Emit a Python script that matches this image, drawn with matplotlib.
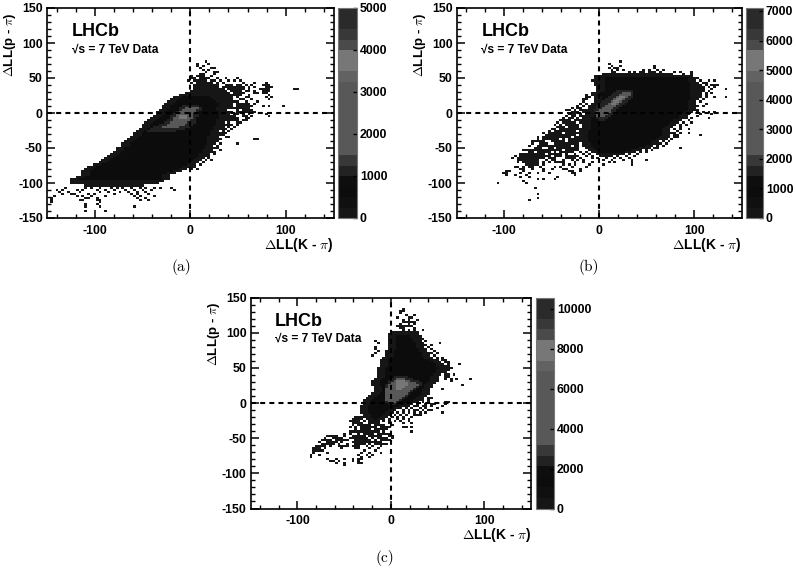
import numpy as np
import matplotlib
matplotlib.use("Agg")
import matplotlib.pyplot as plt
from matplotlib.colors import ListedColormap, BoundaryNorm

plt.rcParams['font.family'] = ['Liberation Sans', 'DejaVu Sans']
plt.rcParams['font.weight'] = 'bold'
plt.rcParams['mathtext.fontset'] = 'cm'

W, H = 796, 571

# colour bar greys, bottom to top (20 bands)
greys = ['#161616', '#101010', '#0c0c0c', '#0e0e0e', '#222222', '#383838', '#585858', '#585858', '#585858', '#585858',
         '#585858', '#585858', '#585858', '#626262', '#777777', '#777777', '#4a4a4a', '#383838', '#2a2a2a', '#2a2a2a']

# ---- panel a: row (y) and left/right edges of the filled region
a_rows = list(range(-105, 36, 3))
a_left = [-110, -125, -125, -125, -118, -112, -112, -112, -110, -108, -102, -96, -93, -90, -87, -84, -81, -78, -78, -72,
          -72, -69, -66, -63, -60, -60, -57, -54, -51, -51, -48, -45, -42, -39, -36, -36, -33, -30, -30, -27, -24, -21,
          -18, -12, -6, 0, 3]
a_right = [-50, -35, -28, -24, -22, -22, -18, -12, -6, -3, 3, 6, 9, 12, 15, 15, 18, 18, 21, 21,
           24, 24, 24, 24, 27, 27, 27, 30, 30, 33, 33, 33, 36, 36, 36, 36, 33, 33, 36, 36, 33, 30,
           27, 24, 21, 18, 15]
a_mid_rows = [9, 6, 3, 0, -3, -6, -9, -12, -15, -18, -21, -24, -27]
a_mid_left = [-9, -12, -12, -15, -18, -21, -21, -24, -27, -33, -39, -42, -45]
a_mid_right = [6, 9, 9, 6, 6, 6, 3, 3, 3, 0, -3, -9, -18]
a_core_rows = [6, 3, 0, -3, -6, -9, -12, -15, -18, -21]
a_core_left = [-6, -9, -12, -15, -15, -18, -18, -21, -24, -30]
a_core_right = [6, 3, 3, 0, 0, 0, -3, -6, -9, -15]
a_top_rows = [-6, -9]
a_top_left = [-12, -12]
a_top_right = [-6, -6]
a_wing_y = [45, 42, 39, 36, 36, 36, 33, 33, 33, 33, 30, 30, 30, 27, 27, 27, 24, 24, 21, 18, 15, 12, 12, 9, 9, 6, 6, 3, 0, 0, -6, -9, -12]
a_wing_l = [6, 6, 3, 3, 36, 48, 3, 39, 51, 78, 3, 42, 75, 15, 45, 75, 24, 48, 27, 30, 33, 36, 48, 39, 48, 39, 51, 54, 48, 57, 36, 42, 36]
a_wing_r = [15, 18, 24, 27, 42, 54, 33, 45, 54, 81, 36, 48, 81, 39, 51, 78, 42, 51, 42, 42, 45, 42, 60, 42, 63, 48, 60, 60, 54, 60, 42, 48, 45]
a_fringe_y = [72, 69, 66, 63, 60, 57, 54, 51, 48, 45, 42, 39, 36, 33, 30, 27, 24, 21, 18, 15, 12, 9, 6, 3, 0, -3, -6,
              -9, -12, -15, -18, -21, -24, -27, -30, -33, -36, -39, -42, -45, -48, -51, -54, -57, -60, -63, -66, -69,
              -72, -75, -78, -81, -108, -111, -114, -117, -120, -123, -126, -129, -132, -135, -141]
a_fringe_x = [[15], [6, 18], [6, 12], [9, 21, 24], [12, 18], [15, 24, 27], [9, 12, 24], [0, 6, 9, 12, 21],
              [0, 3, 9, 12, 15, 18, 27, 36, 48], [-3, 3, 9, 15, 21, 24, 30, 39, 45, 51], [0, 18, 21, 27, 33, 54, 66, 78],
              [24, 27, 36, 39, 42, 48, 51, 57, 63, 75, 78, 81], [24, 27, 33, 36, 45, 54, 60, 66, 78, 81, 84],
              [21, 24, 30, 33, 39, 42, 48, 51, 60, 72, 75, 78, 81, 108, 111], [21, 24, 27, 33, 36, 45, 51, 57, 60, 66, 75, 78],
              [27, 33, 36, 39, 54, 66, 69, 75, 78], [27, 30, 36, 45, 48, 60, 81], [30, 36, 42, 48, 57, 60, 78, 84],
              [33, 36, 42, 51, 54, 63, 81], [36, 39, 42, 48, 57, 69], [36, 39, 48, 54, 60, 66],
              [33, 51, 54, 57, 60, 63, 75, 81, 96], [36, 39, 42, 54, 57, 60], [36, 48, 60, 63], [39, 42, 48, 51, 57, 63, 66],
              [36, 39, 45, 48, 54, 60, 78], [36, 42, 45, 54, 57, 63, 81], [39, 42, 48, 57, 60], [36, 42, 48, 54, 57],
              [39, 48, 51], [36, 39, 42, 48], [33, 39, 45], [33, 36, 42], [33, 39], [30, 33, 36], [30, 33], [27, 36, 39],
              [27, 30, 66, 69], [27], [30, 48], [27], [24, 27], [21, 30], [21, 24], [18, 24], [18], [12, 18], [9, 15, 21],
              [6, 12], [3, 9], [0, 3], [0, 6],
              [-132, -111, -105, -96, -84, -78, -72, -63, -54, -48, -39, -33, -21],
              [-141, -135, -120, -114, -99, -90, -81, -69, -60, -51, -42, -18],
              [-138, -129, -117, -96, -87, -75, -66, -57, -48], [-135, -126, -123, -108, -102, -81, -63, -57, -45],
              [-144, -120, -114, -105, -90, -60, -54, -39], [-147, -111, -108, -99, -57, -48],
              [-147, -117, -114, -99, -96, -54, -45], [-147, -96], [-111, -99], [-111, -96, -60], [-111, -90]]

# ---- panel b
b_rows = list(range(-63, 57, 3))
b_left = [0, -3, -9, -12, -15, -18, -18, -21, -21, -21, -21, -21, -21, -18, -18, -18, -18, -18, -18, -15, -15, -15, -15,
          -12, -12, -9, -6, -6, -6, -9, -9, -3, -3, -3, -3, -3, -3, -3, 0, 3]
b_right = [12, 24, 33, 39, 48, 54, 60, 60, 66, 69, 72, 72, 72, 72, 75, 78, 81, 84, 90, 90, 93, 96, 99, 99, 99, 99, 99, 102,
           102, 102, 102, 102, 102, 102, 102, 102, 99, 99, 96, 75]
b_mid_rows = [30, 27, 24, 21, 18, 15, 12, 9, 6, 3, 0, -3, -6, -9, -12]
b_mid_left = [18, 15, 12, 9, 6, 3, 0, -3, -3, -6, -6, -6, -3, -3, 0]
b_mid_right = [33, 33, 33, 33, 30, 27, 24, 21, 18, 15, 15, 12, 9, 6, 3]
b_core_rows = [27, 24, 21, 18, 15, 12, 9, 6, 3, 0, -3, -6]
b_core_left = [24, 21, 18, 15, 12, 9, 6, 3, 0, -3, -3, -3]
b_core_right = [30, 30, 27, 24, 21, 18, 15, 12, 9, 9, 6, 3]
b_top_rows = [21, 18, 15, 12]
b_top_left = [21, 18, 15, 12]
b_top_right = [24, 21, 18, 15]
b_wing_y = [-12, -12, -15, -18, -21, -21, -24, -24, -27, -27, -30, -30, -33, -33, -36, -36, -36, -39, -39, -42, -42, -42,
            -45, -45, -45, -48, -51, -51, -54, -54, -54, -57, -57, -60, -60, -60, -63, -63, -63, -66, -66, -66, -69, -72, -72, -75]
b_wing_l = [-39, -27, -39, -36, -45, -33, -42, -30, -45, -36, -51, -36, -57, -39, -60, -42, -27, -57, -33, -69, -51, -33,
            -63, -48, -30, -60, -69, -45, -75, -60, -36, -66, -42, -84, -72, -54, -81, -48, -36, -84, -54, -33, -81, -78, -48, -75]
b_wing_r = [-33, -21, -30, -24, -39, -24, -33, -21, -39, -30, -42, -24, -42, -30, -45, -33, -21, -48, -24, -60, -39, -24,
            -57, -36, -24, -33, -63, -27, -66, -42, -27, -54, -30, -78, -60, -45, -60, -42, -24, -63, -48, -27, -66, -66, -42, -66]
b_fringe_y = [72, 69, 66, 63, 60, 57, 54, 51, 48, 45, 42, 39, 36, 33, 30, 27, 24, 21, 18, 15, 12, 9, 6, 3, 0, -3, -6, -9,
              -12, -15, -18, -21, -24, -27, -30, -33, -36, -39, -42, -45, -48, -51, -54, -57, -60, -63, -66, -69, -72,
              -75, -78, -81, -84, -87, -90, -93, -96, -99, -102, -108, -117, -123, -126]
b_fringe_x = [[21], [9], [12, 21, 57], [9, 15, 18, 57], [12, 18, 24, 45, 51, 60, 66],
              [12, 15, 30, 36, 42, 45, 51, 54, 57, 63, 78, 84, 96], [3, 18, 21, 24, 30, 54, 87, 96], [-6, -3], [-6, 102],
              [-9, -6, 105, 114, 120], [-6, 102, 108, 111], [-6, 105, 111, 117, 120, 123], [-3, 105, 108, 114, 120],
              [105, 108, 117, 132], [105, 108, 114], [105, 111, 117], [-15, 105, 111], [-15, -12, 105, 111, 120, 132],
              [-18, -15, 108], [-18, 105], [-21, -15, 111], [-24, -18, 102, 108], [-30, -24, -21],
              [-36, -33, -27, -21, -18, 102], [-30, -27, -24, -18, -15, 102, 108, 114, 120], [-33, -30, -27, -21, 105, 117],
              [-36, -30, -27, -21, -18, 102], [-39, -33, -30, -24, -18, 96, 114], [-42, -39, -33, -27, -24, -21, 93],
              [-45, -39, -36, -30, -27, -21, 87, 96], [-48, -42, -36, -30, -27, -24, 84, 90], [-45, -39, -33, -27, -24, 84],
              [-51, -48, -42, -36, -30, -24, 78, 84, 93], [-54, -48, -45, -39, -33, -27, 81],
              [-60, -54, -51, -45, -42, -36, -30, -24, 75, 78, 84, 93],
              [-57, -54, -51, -48, -45, -42, -39, -33, -27, 78, 81, 105],
              [-66, -57, -54, -51, -48, -45, -42, -36, -27, -24, 72, 78, 81],
              [-66, -60, -54, -51, -45, -39, -33, -27, -24, 69, 75], [-72, -69, -63, -60, -51, -48, -42, -33, -24, 66, 72],
              [-72, -63, -60, -57, -48, -42, -39, -33, -24, 63, 69], [-75, -66, -63, -57, -54, -45, -39, -33, -27, -24, 60, 66],
              [-69, -63, -54, -51, -45, -39, -36, -30, -24, 51, 57, 60, 84],
              [-81, -78, -69, -63, -60, -57, -51, -45, -42, -36, -30, -24, 42, 48, 54],
              [-75, -72, -63, -57, -54, -48, -42, -36, -30, -21, -15, 36, 42, 48],
              [-84, -75, -69, -63, -60, -54, -48, -45, -42, -36, -27, -18, -12, 30, 39],
              [-90, -84, -78, -72, -63, -57, -54, -48, -42, -36, -30, -24, -15, -9, 18, 27, 36],
              [-93, -87, -81, -78, -75, -69, -66, -60, -54, -48, -36, -30, -21, -9, -3, 6, 15, 21, 30],
              [-87, -84, -78, -75, -72, -69, -66, -57, -51, -48, -39, -30, -24, -18, 3, 12, 24, 33, 48],
              [-87, -81, -75, -72, -69, -66, -60, -54, -45, -39, -27, -18, -9, 9, 15, 33],
              [-78, -72, -66, -60, -39, -33, -27, -12, 3, 33], [-90, -87, -81, -75, -72, -63, -48, -42, -30, -15],
              [-84, -81, -72, -60, -51, -39, -36, -21], [-99, -96, -81, -60, -33, -30, -21],
              [-102, -99, -84, -75, -66, -54, -30, -27], [-99, -90, -78, -27], [-84, -75, -45], [-66, -60, -48], [-81],
              [-108, -78], [-69], [-66], [-66], [-75]]

# ---- panel c
c_rows = list(range(-30, 102, 3))
c_left = [-12, -21, -27, -30, -30, -33, -33, -33, -33, -30, -30, -30, -27, -24, -21, -18, -18, -18, -21, -21, -21, -18,
          -15, -15, -15, -15, -15, -12, -12, -12, -12, -9, -6, -6, -6, -3, -3, -3, -3, -3, -3, -3, -3, 0]
c_right = [-18, -15, -9, -6, -3, 0, 3, 9, 15, 21, 27, 30, 33, 36, 39, 39, 39, 42, 42, 45, 48, 48, 48, 51, 54, 54, 57,
           54, 54, 51, 48, 42, 39, 39, 36, 36, 33, 33, 33, 30, 30, 27, 27, 24]
c_mid_rows = [36, 33, 30, 27, 24, 21, 18, 15, 12, 9, 6, 3, 0, -3]
c_mid_left = [3, 0, -3, -3, -6, -6, -6, -6, -6, -6, -6, -6, -6, -3]
c_mid_right = [15, 21, 27, 30, 30, 27, 24, 21, 18, 15, 12, 9, 6, 3]
c_core_rows = [33, 30, 27, 24, 21, 18, 15, 12, 9, 6, 3, 0]
c_core_left = [6, 3, 0, -3, -3, -6, -6, -6, -6, -6, -6, -3]
c_core_right = [12, 18, 24, 27, 24, 21, 18, 15, 12, 9, 6, 3]
c_top_rows = [30, 27, 24, 21, 18]
c_top_left = [6, 6, 6, 6, 6]
c_top_right = [12, 15, 15, 12, 9]
c_wing_y = [114, 108, 51, 48, -21, -24, -27, -27, -30, -30, -33, -33, -36, -36, -39, -39, -42, -42, -45, -45, -48, -48, -48,
            -51, -51, -51, -54, -54, -54, -54, -57, -57, -57, -60, -60, -60, -63, -63, -63, -66, -69]
c_wing_l = [12, 12, 54, 57, -39, -42, -45, -24, -42, -24, -36, -15, -30, -12, -33, -18, -42, -24, -30, -12, -69, -39, -24,
            -60, -42, -15, -75, -57, -39, -12, -66, -42, -24, -72, -39, -15, -81, -57, -42, -84, -84]
c_wing_r = [24, 21, 60, 60, -33, -33, -36, -18, -33, -15, -27, -9, -21, -3, -24, -9, -33, -15, -21, -3, -63, -33, -12,
            -54, -27, -6, -66, -51, -24, -3, -60, -33, -15, -66, -30, -9, -75, -51, -36, -78, -78]
c_fringe_y = [132, 129, 126, 123, 120, 117, 114, 111, 108, 105, 102, 99, 93, 90, 87, 84, 81, 78, 75, 72, 69, 66, 63, 60,
              57, 54, 51, 48, 45, 42, 39, 36, 33, 30, 24, 18, 6, 3, 0, -3, -6, -9, -12, -15, -18, -21, -24, -27, -30, -33,
              -36, -39, -42, -45, -48, -51, -54, -57, -60, -63, -66, -69, -72, -75, -78, -81, -84, -87, -90]
c_fringe_x = [[12], [9, 12], [9], [15, 24], [6, 18, 21], [12, 18, 27], [12, 15, 18, 21], [9, 18, 24], [6, 9, 15, 21],
              [9, 12, 24], [12, 18, 24, 33], [3, 27], [-3, 30], [33], [-18, 36], [-15, 51], [36, 42], [-18, 39], [-18, 42],
              [-15, 45], [-18, 42, 48], [-21, 45], [48, 54], [54, 57], [57, 60], [60, 72], [60], [60, 63], [57, 60], [57],
              [57, 60, 66], [57, 60], [57, 63, 69, 84], [63], [75], [54], [39, 42], [33, 39], [33, 39, 57, 60],
              [27, 36, 42, 45, 57], [18, 24, 27, 33, 36, 42, 54], [9, 15, 21, 30, 36, 48], [12, 18, 24, 27, 33, 39, 42],
              [6, 12, 18, 24, 30, 36, 54], [3, 9, 15, 24, 27, 30], [0, 6, 12, 21], [-3, 6, 12, 18],
              [-30, -21, -9, -3, 3, 9, 18], [-42, -36, -24, -18, -3, 12, 21], [-42, -30, -24, -18, -9, 0],
              [-45, -39, -33, -27, -18, -9, -3, 12, 15, 21], [-39, -30, -24, -18, -12, -6],
              [-45, -36, -30, -27, -21, -18, -9, 21], [-51, -45, -36, -30, -24, -15, -12, -6],
              [-66, -60, -51, -42, -36, -30, -24, -18, -12, -3, 0], [-72, -63, -54, -45, -36, -30, -21, -15, -6, 0],
              [-72, -66, -60, -54, -48, -39, -36, -33, -24, -18, -12, -6], [-78, -69, -60, -54, -42, -39, -36, -30, -27, -21, -12],
              [-75, -69, -63, -57, -48, -39, -36, -30, -24, -18, -9, -6], [-78, -72, -66, -54, -48, -36, -27, -21, -12],
              [-81, -78, -72, -54, -39, -36, -24, -15], [-81, -75, -30, -18], [-84, -69, -33, -24, -12],
              [-87, -78, -36, -27, -21], [-87, -33, -24], [-69, -60, -51, -42, -36, -33], [-66, -63, -57, -42, -36],
              [-60, -51, -36, -33], [-51]]

# colour scale tops and labels
a_zmax, b_zmax, c_zmax = 5000, 7100, 10550
a_ticks = [0, 1000, 2000, 3000, 4000, 5000]
b_ticks = [0, 1000, 2000, 3000, 4000, 5000, 6000, 7000]
c_ticks = [0, 2000, 4000, 6000, 8000, 10000]

edges = np.arange(-150, 151, 3)
cmap = ListedColormap(greys)


def paint(z, rows, lefts, rights, val):
    for y, l, r in zip(rows, lefts, rights):
        j = (y + 150) // 3
        z[j, (l + 150) // 3:(r + 150) // 3 + 1] = val


def panel(box, cbox, zmax, ticks, layers, fringe_y, fringe_x, tag, tagpos):
    z = np.full((100, 100), np.nan)
    for y, xs in zip(fringe_y, fringe_x):
        for x in xs:
            z[(y + 150) // 3, min((x + 150) // 3, 99)] = 0.02 * zmax
    for rows, l, r, frac in layers:
        paint(z, rows, l, r, frac * zmax)

    ax = fig.add_axes([box[0] / W, 1 - box[3] / H, (box[1] - box[0]) / W, (box[3] - box[2]) / H])
    norm = BoundaryNorm(np.linspace(0, zmax, 21), cmap.N)
    m = ax.pcolormesh(edges, edges, z, cmap=cmap, norm=norm)
    ax.axhline(0, color='k', lw=1.5, dashes=(2.4, 2))
    ax.axvline(0, color='k', lw=1.5, dashes=(2.4, 2))
    ax.set_xlim(-150, 150)
    ax.set_ylim(-150, 150)
    ax.set_xticks([-100, 0, 100])
    ax.set_xticks(np.arange(-140, 150, 20), minor=True)
    ax.set_yticks([-150, -100, -50, 0, 50, 100, 150])
    ax.set_yticks(np.arange(-140, 150, 10), minor=True)
    ax.tick_params(which='major', direction='in', top=True, right=True, length=6, width=1.1, labelsize=8.8, pad=3)
    ax.tick_params(axis='x', which='major', pad=5)
    ax.tick_params(which='minor', direction='in', top=True, right=True, length=3, width=1.0)
    ax.set_xticklabels(['-100', '0', '100'], fontweight='bold')
    ax.set_yticklabels(['-150', '-100', '-50', '0', '50', '100', '150'], fontweight='bold')
    for s in ax.spines.values():
        s.set_linewidth(1.2)
    ax.set_xlabel('$\\Delta$LL(K - $\\pi$)', fontsize=10, fontweight='bold', x=1.0, ha='right', labelpad=-1)
    ax.set_ylabel('$\\Delta$LL(p - $\\pi$)', fontsize=9.5, fontweight='bold', y=0.98, ha='right', labelpad=0)
    ax.text(-124, 116, 'LHCb', fontsize=13, fontweight='bold', va='center')
    ax.text(-124, 91, '√s = 7 TeV Data', fontsize=8.6, fontweight='bold', va='center')

    cax = fig.add_axes([cbox[0] / W, 1 - box[3] / H, (cbox[1] - cbox[0]) / W, (box[3] - box[2]) / H])
    cb = fig.colorbar(m, cax=cax, spacing='proportional', drawedges=False)
    cb.set_ticks(ticks)
    cb.set_ticklabels([str(t) for t in ticks], fontweight='bold')
    cax.tick_params(labelsize=8.8, length=3, width=1.0, direction='in', pad=2)
    cax.minorticks_off()
    cb.outline.set_linewidth(0.8)
    cb.outline.set_edgecolor('#777777')
    fig.text(tagpos[0] / W, 1 - tagpos[1] / H, tag, family='cmr10', fontweight='normal', fontsize=11, ha='center', va='center')


fig = plt.figure(figsize=(W / 100, H / 100), dpi=100)

panel((47, 333.5, 8, 218), (337.5, 357), a_zmax, a_ticks,
      [(a_rows, a_left, a_right, 0.02),
       (a_rows[3:-4], [v + 9 for v in a_left[3:-4]], [v - 9 for v in a_right[3:-4]], 0.11),
       (a_wing_y, a_wing_l, a_wing_r, 0.02),
       (a_mid_rows, a_mid_left, a_mid_right, 0.21),
       (a_core_rows, a_core_left, a_core_right, 0.5),
       (a_top_rows, a_top_left, a_top_right, 0.72)],
      a_fringe_y, a_fringe_x, '(a)', (181, 267))
panel((456.7, 741.7, 8, 218), (745.7, 763), b_zmax, b_ticks,
      [(b_rows, b_left, b_right, 0.02),
       (b_rows[2:-2], [v + 9 for v in b_left[2:-2]], [v - 9 for v in b_right[2:-2]], 0.11),
       (b_wing_y, b_wing_l, b_wing_r, 0.02),
       (b_mid_rows, b_mid_left, b_mid_right, 0.21),
       (b_core_rows, b_core_left, b_core_right, 0.5),
       (b_top_rows, b_top_left, b_top_right, 0.72)],
      b_fringe_y, b_fringe_x, '(b)', (589, 267))
panel((250.7, 531, 297.5, 508.5), (535.7, 554), c_zmax, c_ticks,
      [(c_rows, c_left, c_right, 0.02),
       (c_rows[2:-2], [v + 9 for v in c_left[2:-2]], [v - 9 for v in c_right[2:-2]], 0.11),
       (c_wing_y, c_wing_l, c_wing_r, 0.02),
       (c_mid_rows, c_mid_left, c_mid_right, 0.21),
       (c_core_rows, c_core_left, c_core_right, 0.5),
       (c_top_rows, c_top_left, c_top_right, 0.72)],
      c_fringe_y, c_fringe_x, '(c)', (385, 558))

fig.savefig('out.png', dpi=100)
